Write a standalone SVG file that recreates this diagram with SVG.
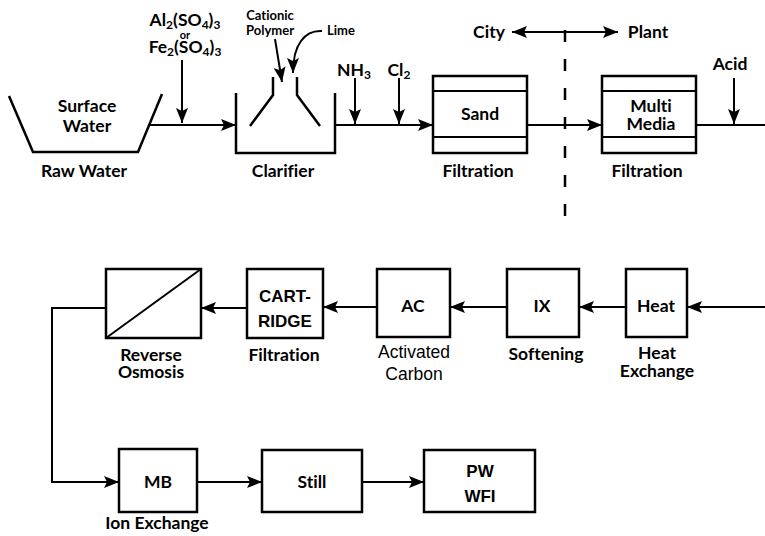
<svg xmlns="http://www.w3.org/2000/svg" width="765" height="536" viewBox="0 0 765 536">
<style>
.t{font-family:Lato,"Open Sans","Liberation Sans",sans-serif;font-weight:bold;font-size:17.5px;fill:#000;text-anchor:middle;font-variant-ligatures:none;font-feature-settings:"liga" 0}
.s{font-size:12px}
.o{font-size:11px}
.sm{font-size:13px}
.a{font-family:"Liberation Sans",Arial,sans-serif;font-weight:bold;font-size:17px;fill:#000;text-anchor:middle}
.ar{font-family:"Liberation Sans",Arial,sans-serif;font-weight:normal;font-size:17.5px;fill:#000;text-anchor:middle}
.box{fill:#fff;stroke:#000;stroke-width:2.5}
.ln{fill:none;stroke:#000;stroke-width:2.5}
.c{fill:none;stroke:#000;stroke-width:2}
.ca{fill:none;stroke:#000;stroke-width:2;marker-end:url(#ah)}
</style>
<defs>
<marker id="ah" markerUnits="userSpaceOnUse" markerWidth="15" markerHeight="12" viewBox="0 0 15 12" refX="15" refY="6" orient="auto">
<path d="M0,0 L15,6 L0,12 L3,6 Z" fill="#000"/>
</marker>
<marker id="ahs" markerUnits="userSpaceOnUse" markerWidth="15" markerHeight="12" viewBox="0 0 15 12" refX="15" refY="6" orient="auto-start-reverse">
<path d="M0,0 L15,6 L0,12 L3,6 Z" fill="#000"/>
</marker>
</defs>
<rect width="765" height="536" fill="#fff"/>

<g id="connectors">
<path class="ca" d="M150,125 L236,125"/>
<path class="ca" d="M182,60 L182,123"/>
<path class="ca" d="M275,39 L282,82"/>
<path class="ca" d="M322,31 C305,30 293,44 293,73"/>
<path class="ca" d="M335,125 L433,125"/>
<path class="ca" d="M355,78 L355,124"/>
<path class="ca" d="M399,78 L399,124"/>
<path class="ca" d="M527,125 L602,125"/>
<path class="c" d="M696,125 L765,125"/>
<path class="ca" d="M734,78 L734,124"/>
<path class="ca" d="M765,307 L687,307"/>
<path class="ca" d="M626,307 L579,307"/>
<path class="ca" d="M507,307 L450,307"/>
<path class="ca" d="M377,307 L323,307"/>
<path class="ca" d="M247,308 L201,308"/>
<path class="ca" d="M106,308 L52,308 L52,482 L119,482"/>
<path class="ca" d="M197,482 L262,482"/>
<path class="ca" d="M362,482 L424,482"/>
<path d="M512,32 L618,32" fill="none" stroke="#000" stroke-width="2" marker-start="url(#ahs)" marker-end="url(#ah)"/>
<path d="M565,30 L565,220" fill="none" stroke="#000" stroke-width="2.5" stroke-dasharray="12 17"/>
</g>

<g id="raw-water">
<path class="ln" d="M9,96 L33,152 L138,152 L162,94"/>
<text class="t" x="87" y="112">Surface</text>
<text class="t" x="87" y="132">Water</text>
<text class="t" x="84" y="177">Raw Water</text>
</g>

<g id="coagulant">
<text class="t" x="185" y="26">Al<tspan class="s" dy="3">2</tspan><tspan dy="-3">(SO</tspan><tspan class="s" dy="3">4</tspan><tspan dy="-3">)</tspan><tspan class="s" dy="3">3</tspan></text>
<text class="t o" x="185" y="39">or</text>
<text class="t" x="185" y="53">Fe<tspan class="s" dy="3">2</tspan><tspan dy="-3">(SO</tspan><tspan class="s" dy="3">4</tspan><tspan dy="-3">)</tspan><tspan class="s" dy="3">3</tspan></text>
</g>

<g id="clarifier">
<path class="ln" d="M236,93 L236,153 L335,153 L335,93"/>
<path class="ln" d="M273,77 L273,95 L250,126"/>
<path class="ln" d="M297,77 L297,95 L320,126"/>
<text class="t" x="283" y="177">Clarifier</text>
<text class="t sm" x="270" y="20">Cationic</text>
<text class="t sm" x="270" y="35">Polymer</text>
<text class="t sm" x="341" y="35">Lime</text>
</g>

<g id="nh3"><text class="t" x="354" y="76">NH<tspan class="s" dy="3">3</tspan></text></g>
<g id="cl2"><text class="t" x="399" y="76">Cl<tspan class="s" dy="3">2</tspan></text></g>

<g id="sand">
<rect class="box" x="433" y="76" width="94" height="77"/>
<path class="c" d="M433,91 L527,91 M433,137 L527,137"/>
<text class="t" x="480" y="120">Sand</text>
<text class="t" x="478" y="177">Filtration</text>
</g>

<g id="city-plant">
<text class="t" x="489" y="38">City</text>
<text class="t" x="648" y="38">Plant</text>
</g>

<g id="multimedia">
<rect class="box" x="602" y="76" width="94" height="77"/>
<path class="c" d="M602,91 L696,91 M602,137 L696,137"/>
<text class="t" x="651" y="112">Multi</text>
<text class="t" x="651" y="130">Media</text>
<text class="t" x="647" y="177">Filtration</text>
</g>

<g id="acid"><text class="t" x="730" y="70">Acid</text></g>

<g id="heat">
<rect class="box" x="626" y="269" width="61" height="68"/>
<text class="t" x="656" y="312">Heat</text>
<text class="t" x="657" y="359">Heat</text>
<text class="t" x="657" y="377">Exchange</text>
</g>

<g id="ix">
<rect class="box" x="507" y="269" width="72" height="68"/>
<text class="t" x="542" y="312">IX</text>
<text class="t" x="546" y="360">Softening</text>
</g>

<g id="ac">
<rect class="box" x="377" y="269" width="73" height="68"/>
<text class="t" x="413" y="312">AC</text>
<text class="ar" x="414" y="358">Activated</text>
<text class="ar" x="414" y="380">Carbon</text>
</g>

<g id="cartridge">
<rect class="box" x="247" y="269" width="76" height="69"/>
<text class="a" x="285" y="302">CART-</text>
<text class="a" x="285" y="327">RIDGE</text>
<text class="t" x="284" y="361">Filtration</text>
</g>

<g id="ro">
<rect class="box" x="106" y="269" width="95" height="69"/>
<path class="c" d="M106,338 L201,269"/>
<text class="t" x="151" y="361">Reverse</text>
<text class="t" x="151" y="378">Osmosis</text>
</g>

<g id="mb">
<rect class="box" x="119" y="449" width="78" height="63"/>
<text class="t" x="158" y="488">MB</text>
<text class="t" x="157" y="529">Ion Exchange</text>
</g>

<g id="still">
<rect class="box" x="262" y="450" width="100" height="62"/>
<text class="t" x="312" y="488">Still</text>
</g>

<g id="pw">
<rect class="box" x="424" y="450" width="111" height="62"/>
<text class="a" x="480" y="477">PW</text>
<text class="a" x="480" y="502">WFI</text>
</g>
</svg>
